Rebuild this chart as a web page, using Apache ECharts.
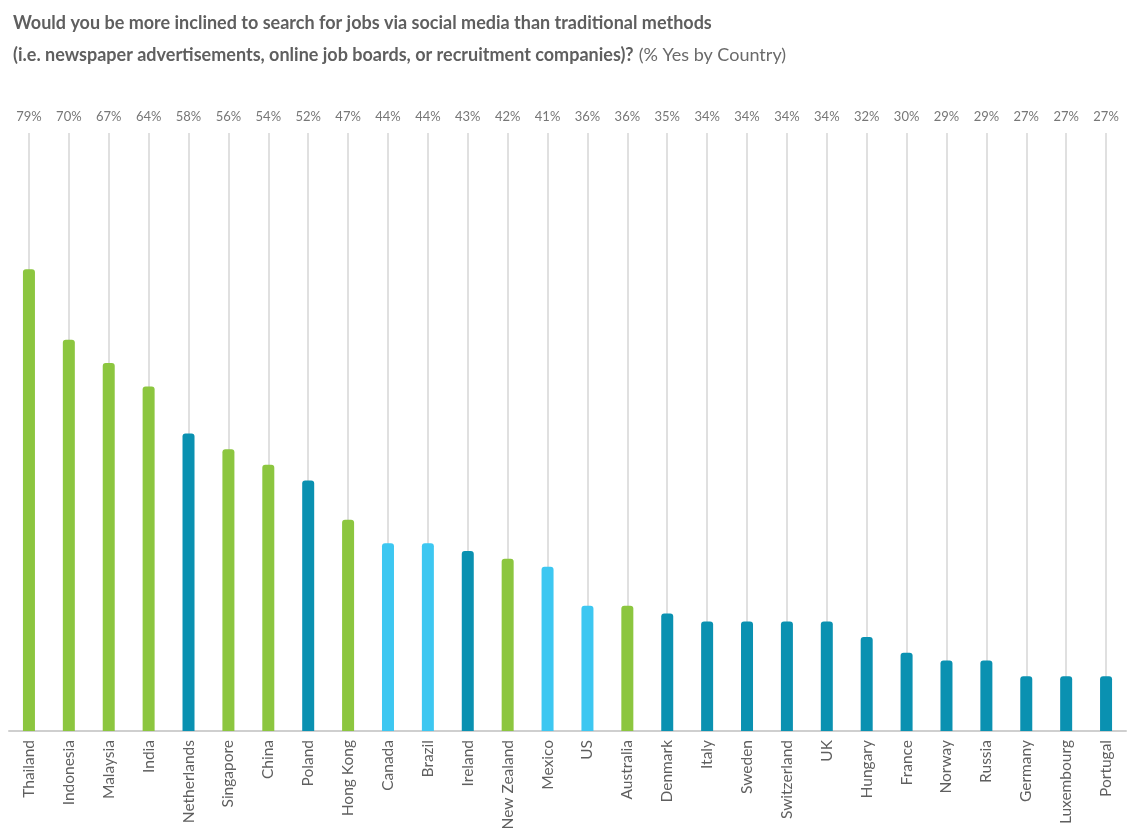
<!DOCTYPE html>
<html>
<head>
<meta charset="utf-8">
<script src="https://cdn.jsdelivr.net/npm/echarts@6/dist/echarts.min.js"></script>
<style>
html,body{margin:0;padding:0;background:#fff;}
#chart{width:1128px;height:836px;}
</style>
</head>
<body>
<div id="chart"></div>
<script>
const countries = ['Thailand','Indonesia','Malaysia','India','Netherlands','Singapore','China','Poland','Hong Kong','Canada','Brazil','Ireland','New Zealand','Mexico','US','Australia','Denmark','Italy','Sweden','Switzerland','UK','Hungary','France','Norway','Russia','Germany','Luxembourg','Portugal'];
const values = [79,70,67,64,58,56,54,52,47,44,44,43,42,41,36,36,35,34,34,34,34,32,30,29,29,27,27,27];
const regions = ['APAC','APAC','APAC','APAC','EU','APAC','APAC','EU','APAC','AM','AM','EU','APAC','AM','AM','APAC','EU','EU','EU','EU','EU','EU','EU','EU','EU','EU','EU','EU'];
const regionColors = {APAC:'#8cc63f', EU:'#0a91b1', AM:'#3dc7f1'};

const chart = echarts.init(document.getElementById('chart'));
const font = 'Lato, "Open Sans", sans-serif';
chart.setOption({
  animation: false,
  title: {
    left: 8, top: 2,
    text: '{b|Would you be more inclined to search for jobs via social media than traditional methods}\n{b|(i.e. newspaper advertisements, online job boards, or recruitment companies)?} {n|(% Yes by Country)}',
    textStyle: {
      rich: {
        b: {fontFamily: font, fontSize: 18, fontWeight: 'bold', color: '#5f5f5f', lineHeight: 32},
        n: {fontFamily: font, fontSize: 18, fontWeight: 'normal', color: '#6a6a6a', lineHeight: 32}
      }
    }
  },
  grid: {left: 9, right: 2, top: 133, bottom: 105, containLabel: false},
  xAxis: [{
    type: 'category',
    data: countries,
    position: 'bottom',
    axisLine: {lineStyle: {color: '#cfcfcf', width: 2}},
    axisTick: {show: true, inside: true, alignWithLabel: true, length: 598, lineStyle: {color: '#d6d6d6', width: 1.5}},
    axisLabel: {rotate: 90, interval: 0, fontFamily: font, fontSize: 15.5, color: '#5f5f5f', margin: 9}
  }, {
    type: 'category',
    data: countries,
    position: 'top',
    axisLine: {show: false},
    axisTick: {show: false},
    axisLabel: {interval: 0, fontFamily: font, fontSize: 13, color: '#777', margin: 10,
      formatter: (v, i) => values[i] + '%'}
  }],
  yAxis: {type: 'value', min: 20, max: 96.4, show: false, splitLine: {show: false}},
  series: [{
    type: 'bar',
    xAxisIndex: 0,
    barWidth: 12,
    data: values.map((v, i) => ({value: v, itemStyle: {color: regionColors[regions[i]]}})),
    itemStyle: {borderRadius: [3, 3, 0, 0]}
  }]
});
</script>
</body>
</html>
